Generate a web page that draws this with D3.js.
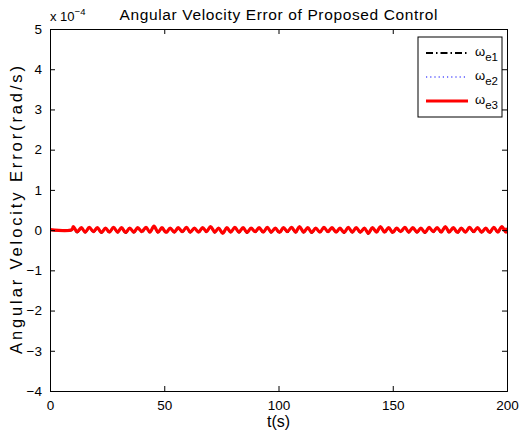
<!DOCTYPE html>
<html>
<head>
<meta charset="utf-8">
<script src="https://cdn.jsdelivr.net/npm/d3@7"></script>
<style>
  body { margin: 0; background: #fff; }
  svg { display: block; font-family: "Liberation Sans", Arial, sans-serif; }
</style>
</head>
<body>
<script>
// values are in units of 1e-4 rad/s
const time = [0, 9.6, 10.2, 11.9, 13.7, 15.4, 17.2, 19.0, 20.7, 22.5, 24.3, 26.0, 27.8, 29.6, 31.3, 33.1, 34.9, 36.7,
  38.4, 40.2, 42.0, 43.7, 45.5, 47.3, 49.0, 50.8, 52.6, 54.4, 56.1, 57.9, 59.7, 61.4, 63.2, 65.0, 66.8, 68.5,
  70.3, 72.1, 73.8, 75.6, 77.4, 79.1, 80.9, 82.7, 84.5, 86.2, 88.0, 89.8, 91.5, 93.3, 95.1, 96.8, 98.6,
  100.4, 102.2, 103.9, 105.7, 107.5, 109.2, 111.0, 112.8, 114.5, 116.3, 118.1, 119.9, 121.6, 123.4, 125.2,
  126.9, 128.7, 130.5, 132.3, 134.0, 135.8, 137.6, 139.3, 141.1, 142.9, 144.6, 146.4, 148.2, 150.0, 151.7,
  153.5, 155.3, 157.0, 158.8, 160.6, 162.3, 164.1, 165.9, 167.7, 169.4, 171.2, 173.0, 174.7, 176.5, 178.3,
  180.0, 181.8, 183.6, 185.4, 187.1, 188.9, 190.7, 192.4, 194.2, 196.0, 197.7, 199.5, 200];

const we3 = [0.01, 0.01, 0.09, -0.04, 0.06, -0.05, 0.07, -0.04, 0.06, -0.06, 0.05, -0.05, 0.07, -0.05, 0.06, -0.06, 0.05, -0.05,
  0.06, -0.04, 0.07, -0.05, 0.10, -0.05, 0.06, -0.06, 0.05, -0.05, 0.06, -0.04, 0.07, -0.05, 0.05, -0.05, 0.06, -0.04,
  0.09, -0.05, 0.05, -0.08, 0.06, -0.05, 0.07, -0.05, 0.06, -0.06, 0.05, -0.04, 0.06, -0.05, 0.07, -0.05, 0.05,
  -0.06, 0.06, -0.04, 0.07, -0.05, 0.09, -0.05, 0.06, -0.06, 0.05, -0.05, 0.07, -0.04, 0.06, -0.05, 0.05,
  -0.06, 0.07, -0.05, 0.06, -0.05, 0.05, -0.08, 0.06, -0.05, 0.09, -0.05, 0.06, -0.06, 0.05, -0.04, 0.07,
  -0.05, 0.06, -0.05, 0.05, -0.06, 0.07, -0.04, 0.06, -0.05, 0.09, -0.05, 0.06, -0.06, 0.05, -0.05, 0.07,
  -0.04, 0.06, -0.05, 0.05, -0.06, 0.07, -0.05, 0.09, -0.05, 0.06, -0.06, 0.05, -0.03];

const we1 = [0.0, 0.0, 0.07, -0.06, 0.05, -0.06, 0.06, -0.05, 0.05, -0.07, 0.04, -0.06, 0.06, -0.06, 0.05, -0.07, 0.04, -0.06,
  0.05, -0.05, 0.06, -0.06, 0.08, -0.06, 0.05, -0.07, 0.04, -0.06, 0.05, -0.05, 0.06, -0.06, 0.04, -0.06, 0.05, -0.05,
  0.08, -0.06, 0.04, -0.09, 0.05, -0.06, 0.06, -0.06, 0.05, -0.07, 0.04, -0.05, 0.05, -0.06, 0.06, -0.06, 0.04,
  -0.07, 0.05, -0.05, 0.06, -0.06, 0.08, -0.06, 0.05, -0.07, 0.04, -0.06, 0.06, -0.05, 0.05, -0.06, 0.04,
  -0.07, 0.06, -0.06, 0.05, -0.06, 0.04, -0.09, 0.05, -0.06, 0.08, -0.06, 0.05, -0.07, 0.04, -0.05, 0.06,
  -0.06, 0.05, -0.06, 0.04, -0.07, 0.06, -0.05, 0.05, -0.06, 0.08, -0.06, 0.05, -0.07, 0.04, -0.06, 0.06,
  -0.05, 0.05, -0.06, 0.04, -0.07, 0.06, -0.06, 0.08, -0.06, 0.05, -0.07, 0.04, -0.04];

const we2 = [0.0, 0.0, 0.08, -0.05, 0.05, -0.05, 0.06, -0.05, 0.05, -0.06, 0.05, -0.06, 0.06, -0.05, 0.05, -0.06, 0.05, -0.05,
  0.05, -0.05, 0.06, -0.05, 0.09, -0.06, 0.05, -0.06, 0.05, -0.05, 0.05, -0.05, 0.06, -0.06, 0.05, -0.05, 0.05, -0.05,
  0.08, -0.05, 0.05, -0.08, 0.05, -0.05, 0.06, -0.06, 0.05, -0.06, 0.05, -0.05, 0.05, -0.05, 0.06, -0.06, 0.05,
  -0.06, 0.05, -0.05, 0.06, -0.05, 0.08, -0.06, 0.05, -0.06, 0.05, -0.05, 0.06, -0.05, 0.05, -0.05, 0.05,
  -0.06, 0.06, -0.06, 0.05, -0.05, 0.05, -0.08, 0.05, -0.06, 0.08, -0.05, 0.05, -0.06, 0.05, -0.05, 0.06,
  -0.06, 0.05, -0.05, 0.05, -0.06, 0.06, -0.05, 0.05, -0.05, 0.08, -0.06, 0.05, -0.06, 0.05, -0.05, 0.06,
  -0.05, 0.05, -0.05, 0.05, -0.06, 0.06, -0.06, 0.08, -0.05, 0.05, -0.06, 0.05, -0.04];

const xTicks = [0, 50, 100, 150, 200];
const yTicks = [-4, -3, -2, -1, 0, 1, 2, 3, 4, 5];

const series = [
  { name: 'e1', values: we1, color: '#000', width: 2, dash: '7,3,1.5,3' },
  { name: 'e2', values: we2, color: '#0000ff', width: 1.2, dash: '1.2,3' },
  { name: 'e3', values: we3, color: '#ff0000', width: 3.2, dash: null },
];

const width = 521, height = 436;
const margin = { top: 29, right: 14, bottom: 45, left: 50 };

const svg = d3.select('body').append('svg')
  .attr('width', width).attr('height', height);

const x = d3.scaleLinear().domain([0, 200]).range([margin.left, width - margin.right]);
const y = d3.scaleLinear().domain([-4, 5]).range([height - margin.bottom, margin.top]);

const fmt = (d) => (d < 0 ? '\u2212' + Math.abs(d) : '' + d);

// lines
svg.append('clipPath').attr('id', 'clip').append('rect')
  .attr('x', margin.left).attr('y', margin.top)
  .attr('width', x(200) - x(0)).attr('height', y(-4) - y(5));

const line = d3.line()
  .x((d, i) => x(time[i]))
  .y((d) => y(d))
  .curve(d3.curveCatmullRom);

const lines = svg.append('g').attr('clip-path', 'url(#clip)');
series.forEach((s) => {
  lines.append('path')
    .datum(s.values)
    .attr('fill', 'none')
    .attr('stroke', s.color)
    .attr('stroke-width', s.width)
    .attr('stroke-dasharray', s.dash)
    .attr('stroke-linejoin', 'round')
    .attr('d', line);
});

// axes
const tickLen = 5;
const axB = svg.append('g').attr('transform', `translate(0,${y(-4)})`)
  .call(d3.axisBottom(x).tickValues(xTicks).tickSize(-tickLen).tickPadding(9).tickFormat(fmt));
const axT = svg.append('g').attr('transform', `translate(0,${y(5)})`)
  .call(d3.axisTop(x).tickValues(xTicks).tickSize(-tickLen).tickFormat(''));
const axL = svg.append('g').attr('transform', `translate(${x(0)},0)`)
  .call(d3.axisLeft(y).tickValues(yTicks).tickSize(-tickLen).tickPadding(8).tickFormat(fmt));
const axR = svg.append('g').attr('transform', `translate(${x(200)},0)`)
  .call(d3.axisRight(y).tickValues(yTicks).tickSize(-tickLen).tickFormat(''));

[axB, axT, axL, axR].forEach((a) => {
  a.select('.domain').attr('stroke', '#000').attr('stroke-width', 1);
  a.selectAll('.tick line').attr('stroke', '#000');
  a.selectAll('text').attr('fill', '#000').style('font-size', '13.5px')
    .style('font-family', '"Liberation Sans", Arial, sans-serif');
});
axB.selectAll('text').attr('dy', '0.71em');

// exponent label
const expo = svg.append('text').attr('x', 50).attr('y', 21)
  .style('font-size', '13px');
expo.append('tspan').text('x 10');
expo.append('tspan').attr('dy', -6).style('font-size', '9.5px').text('\u22124');

// title
svg.append('text')
  .attr('x', (x(0) + x(200)) / 2).attr('y', 20)
  .attr('text-anchor', 'middle')
  .attr('textLength', 318)
  .attr('lengthAdjust', 'spacing')
  .style('font-size', '15.5px')
  .text('Angular Velocity Error of Proposed Control');

// axis labels
svg.append('text')
  .attr('x', (x(0) + x(200)) / 2).attr('y', 427)
  .attr('text-anchor', 'middle')
  .style('font-size', '16px')
  .text('t(s)');

svg.append('text')
  .attr('transform', `translate(22,${(y(-4) + y(5)) / 2}) rotate(-90)`)
  .attr('text-anchor', 'middle')
  .attr('textLength', 288)
  .attr('lengthAdjust', 'spacing')
  .style('font-size', '16.5px')
  .text('Angular Velocity Error(rad/s)');

// legend
const lg = svg.append('g').attr('transform', 'translate(418,37)');
lg.append('rect').attr('width', 84).attr('height', 80)
  .attr('fill', '#fff').attr('stroke', '#000').attr('stroke-width', 1);
const rowY = [16, 40, 64];
series.forEach((s, i) => {
  lg.append('line')
    .attr('x1', 8).attr('x2', 50)
    .attr('y1', rowY[i]).attr('y2', rowY[i])
    .attr('stroke', s.color)
    .attr('stroke-width', s.width)
    .attr('stroke-dasharray', s.dash);
  const t = lg.append('text').attr('x', 57).attr('y', rowY[i] + 3).style('font-size', '13px');
  t.append('tspan').text('\u03c9');
  t.append('tspan').attr('dy', 5).style('font-size', '11.5px').text(s.name);
});
</script>
</body>
</html>
